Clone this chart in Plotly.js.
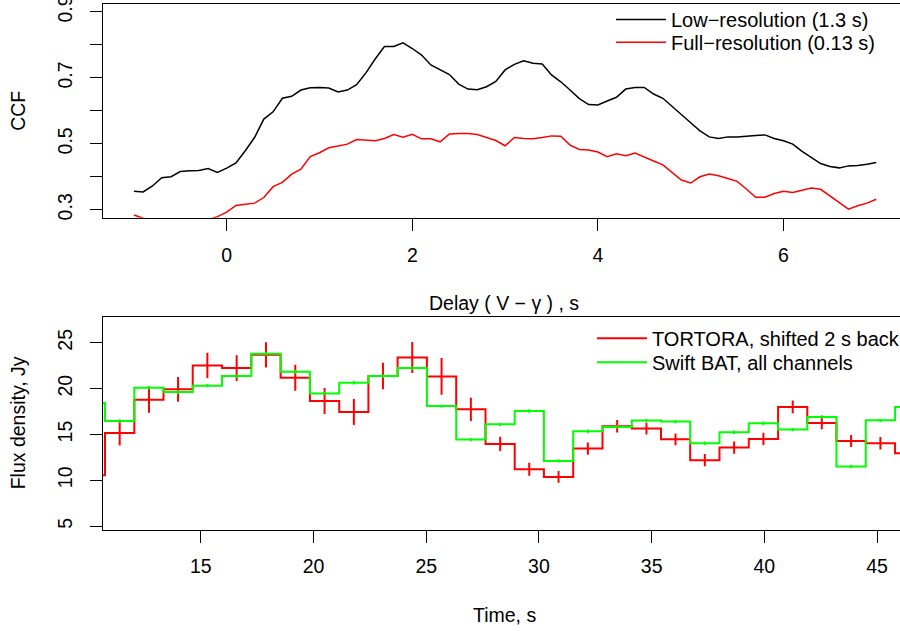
<!DOCTYPE html>
<html>
<head>
<meta charset="utf-8">
<script src="https://cdn.plot.ly/plotly-3.0.1.min.js"></script>
<style>
html, body { margin: 0; padding: 0; overflow: hidden; background: #fff; }
#chart { width: 908px; height: 631px; }
</style>
</head>
<body>
<div id="chart"></div>
<script>
// ---- Top panel: cross-correlation function vs delay ----
const delay = [-1.0,-0.9,-0.8,-0.7,-0.6,-0.5,-0.4,-0.3,-0.2,-0.1,
  0.0,0.1,0.2,0.3,0.4,0.5,0.6,0.7,0.8,0.9,
  1.0,1.1,1.2,1.3,1.4,1.5,1.6,1.7,1.8,1.9,
  2.0,2.1,2.2,2.3,2.4,2.5,2.6,2.7,2.8,2.9,
  3.0,3.1,3.2,3.3,3.4,3.5,3.6,3.7,3.8,3.9,
  4.0,4.1,4.2,4.3,4.4,4.5,4.6,4.7,4.8,4.9,
  5.0,5.1,5.2,5.3,5.4,5.5,5.6,5.7,5.8,5.9,
  6.0,6.1,6.2,6.3,6.4,6.5,6.6,6.7,6.8,6.9,7.0];
const ccfLow = [0.356,0.354,0.372,0.397,0.400,0.416,0.418,0.419,0.425,0.413,
  0.426,0.442,0.479,0.519,0.575,0.597,0.638,0.644,0.663,0.670,
  0.671,0.669,0.657,0.663,0.679,0.715,0.757,0.795,0.795,0.806,
  0.789,0.769,0.739,0.724,0.710,0.681,0.666,0.664,0.673,0.689,
  0.724,0.741,0.752,0.744,0.742,0.709,0.688,0.663,0.637,0.619,
  0.618,0.630,0.641,0.666,0.671,0.671,0.651,0.638,0.614,0.589,
  0.564,0.539,0.521,0.516,0.521,0.521,0.522,0.525,0.527,0.516,
  0.509,0.499,0.477,0.459,0.440,0.431,0.427,0.433,0.434,0.438,0.443];
const ccfFull = [0.284,0.274,0.268,0.264,0.262,0.261,0.262,0.265,0.270,0.279,
  0.293,0.313,0.317,0.320,0.337,0.370,0.383,0.408,0.423,0.461,
  0.473,0.488,0.493,0.499,0.513,0.510,0.509,0.516,0.528,0.520,
  0.529,0.515,0.515,0.506,0.530,0.531,0.531,0.528,0.518,0.510,
  0.494,0.519,0.516,0.515,0.519,0.524,0.523,0.496,0.483,0.481,
  0.475,0.461,0.470,0.464,0.472,0.459,0.448,0.436,0.413,0.390,
  0.381,0.400,0.408,0.403,0.395,0.386,0.363,0.338,0.338,0.349,
  0.356,0.352,0.359,0.366,0.362,0.342,0.322,0.302,0.312,0.320,0.332];

// ---- Bottom panel: light curves (bin centres, 1.3 s bins) ----
const timeBins = [10.10,11.40,12.70,13.99,15.29,16.59,17.89,19.19,20.49,21.79,
  23.08,24.38,25.68,26.98,28.28,29.57,30.87,32.17,33.47,34.77,
  36.06,37.36,38.66,39.96,41.26,42.55,43.85,45.15,46.45];
const tortoraFlux = [10.55,15.16,18.79,19.92,22.53,22.24,23.69,21.19,18.65,17.45,
  21.37,23.40,21.33,17.74,13.97,11.21,10.37,13.46,15.89,15.64,
  14.47,12.19,13.57,14.51,18.00,16.25,14.29,14.04,12.95];
const tortoraErr = [1.40,1.36,1.43,1.36,1.38,1.40,1.38,1.42,1.42,1.42,
  1.45,1.69,2.00,1.27,0.78,0.71,0.65,0.67,0.69,0.64,
  0.64,0.67,0.67,0.67,0.69,0.67,0.65,0.67,0.67];
const batFlux = [18.43,16.47,20.10,19.63,20.32,21.37,23.80,21.84,19.48,20.64,
  21.37,22.24,18.10,14.44,16.11,17.56,12.11,15.35,15.82,16.51,
  16.40,14.04,15.24,16.22,15.53,16.91,11.50,16.54,17.99];
const batErr = [0.18,0.18,0.18,0.18,0.18,0.18,0.18,0.18,0.18,0.18,
  0.18,0.18,0.18,0.18,0.18,0.18,0.18,0.18,0.18,0.18,
  0.18,0.18,0.18,0.18,0.18,0.18,0.18,0.18,0.18];

const labelsTop = ['Low\u2212resolution (1.3 s)', 'Full\u2212resolution (0.13 s)'];
const labelsBottom = ['TORTORA, shifted 2 s back', 'Swift BAT, all channels'];
const ccfTicks = [0.3,0.4,0.5,0.6,0.7,0.8,0.9];
const ccfTickText = ['0.3','','0.5','','0.7','','0.9'];
const delayTicks = [0,2,4,6];
const fluxTicks = [5,10,15,20,25];
const timeTicks = [15,20,25,30,35,40,45];

const W = 908, H = 631;
const px = v => v / W;
const py = v => 1 - v / H;
const FONT = 'Liberation Sans, Arial, Helvetica, sans-serif';

const traces = [
  {x: delay, y: ccfLow, type: 'scatter', mode: 'lines', name: labelsTop[0],
   line: {color: '#000000', width: 1.5}, xaxis: 'x', yaxis: 'y', legend: 'legend'},
  {x: delay, y: ccfFull, type: 'scatter', mode: 'lines', name: labelsTop[1],
   line: {color: '#FF0000', width: 1.5}, xaxis: 'x', yaxis: 'y', legend: 'legend2'},
  {x: timeBins, y: tortoraFlux, type: 'scatter', mode: 'lines', name: labelsBottom[0],
   line: {color: '#FF0000', width: 2, shape: 'hvh'}, xaxis: 'x2', yaxis: 'y2', legend: 'legend3'},
  {x: timeBins, y: batFlux, type: 'scatter', mode: 'lines', name: labelsBottom[1],
   line: {color: '#00FF00', width: 2, shape: 'hvh'}, xaxis: 'x2', yaxis: 'y2', legend: 'legend4'},
  {x: timeBins, y: tortoraFlux, type: 'scatter', mode: 'markers', showlegend: false,
   marker: {size: 2, opacity: 0}, hoverinfo: 'skip',
   error_y: {type: 'data', array: tortoraErr, visible: true, width: 0, thickness: 2, color: '#FF0000'},
   xaxis: 'x2', yaxis: 'y2'},
  {x: timeBins, y: batFlux, type: 'scatter', mode: 'markers', showlegend: false,
   marker: {size: 2, opacity: 0}, hoverinfo: 'skip',
   error_y: {type: 'data', array: batErr, visible: true, width: 0, thickness: 2, color: '#00FF00'},
   xaxis: 'x2', yaxis: 'y2'}
];

const axisCommon = {
  showgrid: false, zeroline: false, showline: true, mirror: true,
  linecolor: '#000000', linewidth: 1, ticks: 'outside', ticklen: 12,
  tickcolor: '#000000', tickwidth: 1, tickmode: 'array',
  ticklabeloverflow: 'allow',
  tickfont: {family: FONT, size: 19.5, color: '#000000'}
};

function legendAt(xPix, yPix) {
  return {x: px(xPix), y: py(yPix), xanchor: 'left', yanchor: 'middle',
    bgcolor: 'rgba(0,0,0,0)', borderwidth: 0, itemwidth: 50,
    font: {family: FONT, size: 20, color: '#000000'}};
}

const layout = {
  width: W, height: H,
  margin: {l: 0, r: 0, t: 0, b: 0},
  paper_bgcolor: '#ffffff', plot_bgcolor: '#ffffff',
  font: {family: FONT, color: '#000000'},
  xaxis: Object.assign({}, axisCommon, {domain: [px(103), px(906)], range: [-1.333, 7.32],
    anchor: 'y', tickvals: delayTicks, ticklabelstandoff: 8}),
  yaxis: Object.assign({}, axisCommon, {domain: [py(217), py(3)], range: [0.276, 0.924],
    anchor: 'x', tickvals: ccfTicks, ticktext: ccfTickText, tickangle: -90, ticklabelstandoff: 10}),
  xaxis2: Object.assign({}, axisCommon, {domain: [px(103), px(906)], range: [10.66, 46.285],
    anchor: 'y2', tickvals: timeTicks, ticklabelstandoff: 6}),
  yaxis2: Object.assign({}, axisCommon, {domain: [py(530), py(316.7)], range: [4.56, 27.79],
    anchor: 'x2', tickvals: fluxTicks, tickangle: -90, ticklabelstandoff: 10}),
  legend: legendAt(611, 19),
  legend2: legendAt(611, 42.3),
  legend3: legendAt(592, 338.3),
  legend4: legendAt(592, 362.3),
  annotations: [
    {text: 'CCF', xref: 'paper', yref: 'paper', x: px(18), y: py(110), textangle: -90,
     showarrow: false, xanchor: 'center', yanchor: 'middle', font: {family: FONT, size: 19.5}},
    {text: 'Delay ( V \u2212 \u03b3 ) , s', xref: 'paper', yref: 'paper', x: px(504.5), y: py(302),
     showarrow: false, xanchor: 'center', yanchor: 'middle', font: {family: FONT, size: 19.5}},
    {text: 'Flux density, Jy', xref: 'paper', yref: 'paper', x: px(18), y: py(423), textangle: -90,
     showarrow: false, xanchor: 'center', yanchor: 'middle', font: {family: FONT, size: 19.5}},
    {text: 'Time, s', xref: 'paper', yref: 'paper', x: px(504.5), y: py(615),
     showarrow: false, xanchor: 'center', yanchor: 'middle', font: {family: FONT, size: 19.5}}
  ],
  showlegend: true
};

Plotly.newPlot('chart', traces, layout, {staticPlot: true, displayModeBar: false});
</script>
</body>
</html>
